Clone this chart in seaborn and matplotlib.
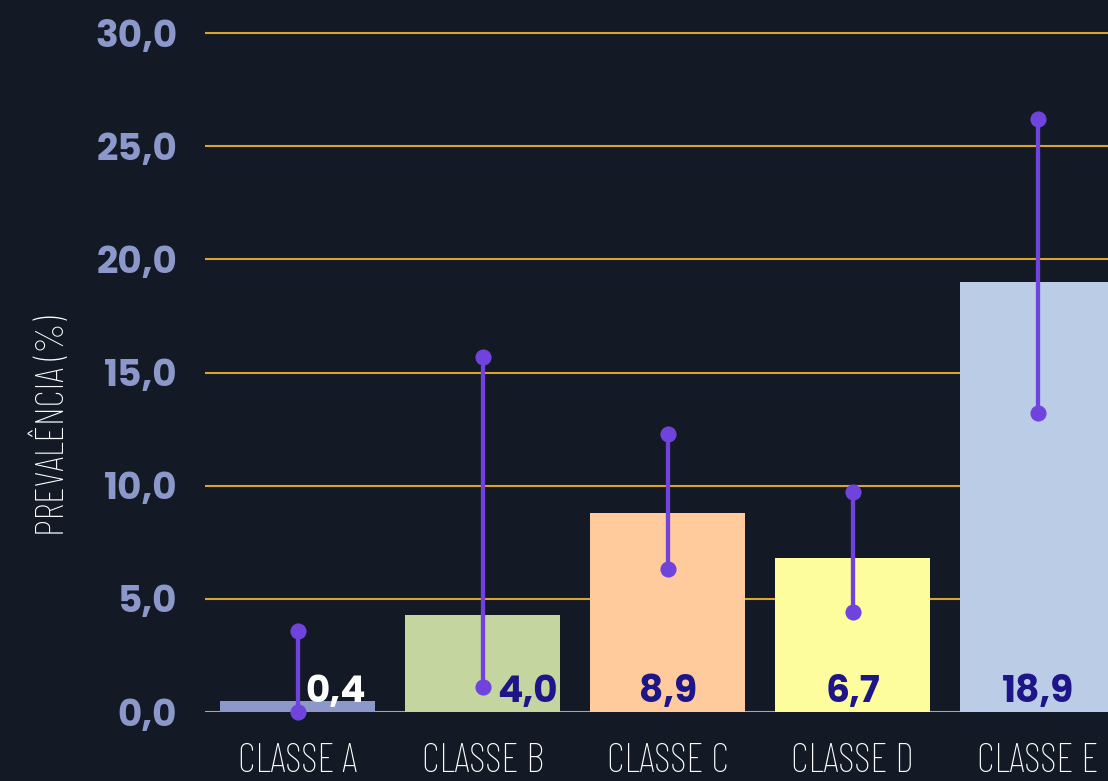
import numpy as np
import matplotlib.pyplot as plt
import seaborn as sns
from matplotlib import font_manager

# data
classes = ['CLASSE A', 'CLASSE B', 'CLASSE C', 'CLASSE D', 'CLASSE E']
prevalence = [0.5, 4.3, 8.8, 6.8, 19.0]
value_labels = ['0,4', '4,0', '8,9', '6,7', '18,9']
ci_low = [0.0, 1.1, 6.3, 4.4, 13.2]
ci_high = [3.6, 15.7, 12.3, 9.7, 26.2]
yticks = [0, 5, 10, 15, 20, 25, 30]

bar_colors = ['#8d98ca', '#c4d59f', '#ffcb9c', '#fefd9d', '#bbcde6']
label_colors = ['white', '#1e1588', '#1e1588', '#1e1588', '#1e1588']
bg = '#131a25'
grid_col = '#daa52c'
ci_col = '#7044dc'
tick_col = '#8d98ca'


def pick(*cands, weight=400):
    # first candidate that has a file of at least the wanted weight
    fonts = font_manager.fontManager.ttflist
    for c in cands:
        if any(f.name == c and f.weight >= weight for f in fonts):
            return c
    return 'DejaVu Sans'


narrow = pick('Barlow Condensed', 'Roboto Condensed', 'Liberation Sans Narrow')
num_font = pick('Poppins', 'League Spartan', 'Work Sans', 'Figtree', 'Inter', weight=700)

sns.set_style('dark')
plt.rcParams['font.family'] = [num_font, 'DejaVu Sans']

fig = plt.figure(figsize=(11.08, 7.81), dpi=100, facecolor=bg)
ax = fig.add_axes([0.185, 0.0883, 0.815, 0.8694 * 30.2 / 30])
ax.set_facecolor(bg)

sns.barplot(x=classes, y=prevalence, hue=classes, palette=bar_colors,
            legend=False, width=0.84, saturation=1, linewidth=0, ax=ax, zorder=2)

# confidence intervals: stick with a dot at each end
xs = np.arange(len(classes))
ax.vlines(xs, ci_low, ci_high, color=ci_col, lw=3.1, zorder=3, clip_on=False)
ax.scatter(np.r_[xs, xs], np.r_[ci_low, ci_high], s=135, color=ci_col,
           zorder=4, clip_on=False, linewidths=0)

# value labels (A and B shifted right, away from the CI stick)
shift = [0.205, 0.245, 0, 0, 0]
for i, txt in enumerate(value_labels):
    ax.text(xs[i] + shift[i], 0.45, txt, ha='center', va='baseline',
            fontsize=27, fontweight='bold', color=label_colors[i], zorder=5)

ax.set_xlim(-0.5, 4.38)
ax.set_ylim(0, 30.2)
ax.set_yticks(yticks)
ax.set_yticklabels([f'{v:.1f}'.replace('.', ',') for v in yticks])
ax.yaxis.grid(True, color=grid_col, lw=1.5, zorder=0)
ax.xaxis.grid(False)
ax.set_axisbelow(True)
for s in ax.spines.values():
    s.set_visible(False)

ax.tick_params(axis='y', length=0, pad=20, labelsize=27, labelcolor=tick_col)
for t in ax.get_yticklabels():
    t.set_fontweight('bold')
ax.tick_params(axis='x', length=0, pad=22, labelsize=29, labelcolor='white')
for t in ax.get_xticklabels():
    t.set_family(narrow)
    t.set_fontweight('light')

ax.set_xlabel('')
ax.set_ylabel('PREVALÊNCIA (%)', family=narrow, fontweight='light',
              fontsize=28, color='white')
ax.yaxis.set_label_coords(-0.147, 0.419)

fig.savefig('out.png', dpi=100, facecolor=bg)
